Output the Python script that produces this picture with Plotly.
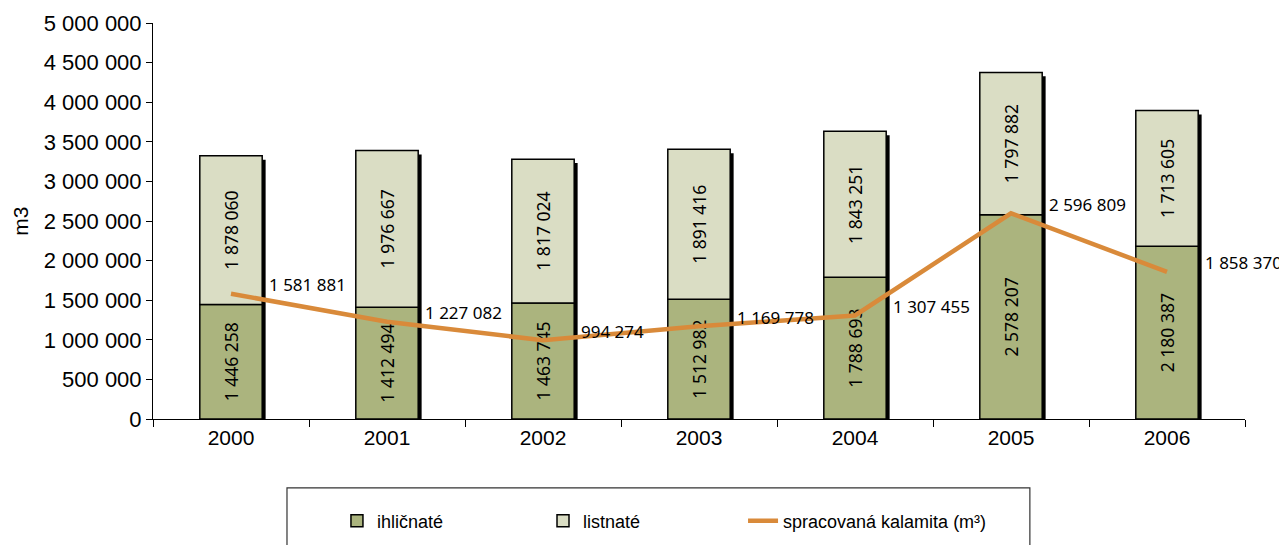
import plotly.graph_objects as go

years = ["2000", "2001", "2002", "2003", "2004", "2005", "2006"]
ihlicnate = [1446258, 1412494, 1463745, 1512982, 1788693, 2578207, 2180387]
listnate = [1878060, 1976667, 1817024, 1891416, 1843251, 1797882, 1713605]
kalamita = [1581881, 1227082, 994274, 1169778, 1307455, 2596809, 1858370]

C_IHL = "#ABB47E"
C_LIST = "#DADDC4"
C_LINE = "#D98A3A"
AX_FONT = "Liberation Sans, Arial, sans-serif"
VAL_FONT = "Noto Sans, Open Sans, sans-serif"


def fmt(v):
    return f"{v:,}".replace(",", " ")


totals = [a + b for a, b in zip(ihlicnate, listnate)]
bar_w = 0.4

fig = go.Figure()

# drop shadow behind each stacked bar
fig.add_trace(go.Bar(
    x=years, y=[t - 50000 for t in totals], base=0,
    width=bar_w, offset=-bar_w / 2 + 0.022,
    marker=dict(color="black", line=dict(width=0)),
    showlegend=False, hoverinfo="skip"
))

fig.add_trace(go.Bar(
    x=years, y=ihlicnate, base=0, name="ihličnaté", legend="legend",
    width=bar_w, offset=-bar_w / 2,
    marker=dict(color=C_IHL, line=dict(color="black", width=1.5)),
    text=[fmt(v) for v in ihlicnate], textposition="inside",
    textangle=-90, insidetextanchor="middle",
    textfont=dict(family=VAL_FONT, size=17.5, color="black"),
))

fig.add_trace(go.Bar(
    x=years, y=listnate, base=ihlicnate, name="listnaté", legend="legend2",
    width=bar_w, offset=-bar_w / 2,
    marker=dict(color=C_LIST, line=dict(color="black", width=1.5)),
    text=[fmt(v) for v in listnate], textposition="inside",
    textangle=-90, insidetextanchor="middle",
    textfont=dict(family=VAL_FONT, size=17.5, color="black"),
))

fig.add_trace(go.Scatter(
    x=years, y=kalamita, mode="lines", name="spracovaná kalamita (m³)",
    legend="legend3", line=dict(color=C_LINE, width=4.5),
))

# value labels to the right of the line points (x as category index)
for i, v in enumerate(kalamita):
    fig.add_annotation(
        x=i, y=v, text=fmt(v), showarrow=False,
        xanchor="left", yanchor="middle", xshift=36, yshift=9,
        font=dict(family=VAL_FONT, size=17, color="black"),
    )

# y axis title
fig.add_annotation(
    text="m3", xref="paper", yref="paper", x=-0.122, y=0.5,
    textangle=-90, showarrow=False, xanchor="center", yanchor="middle",
    font=dict(family=AX_FONT, size=21, color="black"),
)

# legend frame
fig.add_shape(
    type="rect", xref="paper", yref="paper",
    x0=0.1227, x1=0.803, y0=-0.174, y1=-0.33,
    line=dict(color="#333333", width=1.2), fillcolor="rgba(0,0,0,0)",
)

leg = dict(orientation="h", xref="container", yref="container",
           xanchor="left", y=0.0447, yanchor="middle",
           font=dict(family=AX_FONT, size=18), bgcolor="rgba(0,0,0,0)")

fig.update_layout(
    width=1279, height=537,
    margin=dict(l=145, r=42, t=15, b=126),
    plot_bgcolor="white", paper_bgcolor="white",
    barmode="overlay",
    separators=", ",
    font=dict(family=AX_FONT, size=21, color="black"),
    showlegend=True,
    legend=dict(leg, x=0.2572),
    legend2=dict(leg, x=0.4183),
    legend3=dict(leg, x=0.5747),
    xaxis=dict(
        type="category", range=[-0.5, 6.5], autorange=False,
        showline=True, linecolor="black", linewidth=1,
        ticks="outside", tickson="boundaries", ticklen=7, tickcolor="black",
        showgrid=False, tickfont=dict(size=21), automargin=False,
    ),
    yaxis=dict(
        range=[0, 5000000], dtick=500000, tickformat=",d",
        showline=True, linecolor="black", linewidth=1,
        ticks="outside", ticklen=6, tickcolor="black",
        showgrid=False, zeroline=False, tickfont=dict(size=22),
        automargin=False,
    ),
)

fig.write_html("out.html")
